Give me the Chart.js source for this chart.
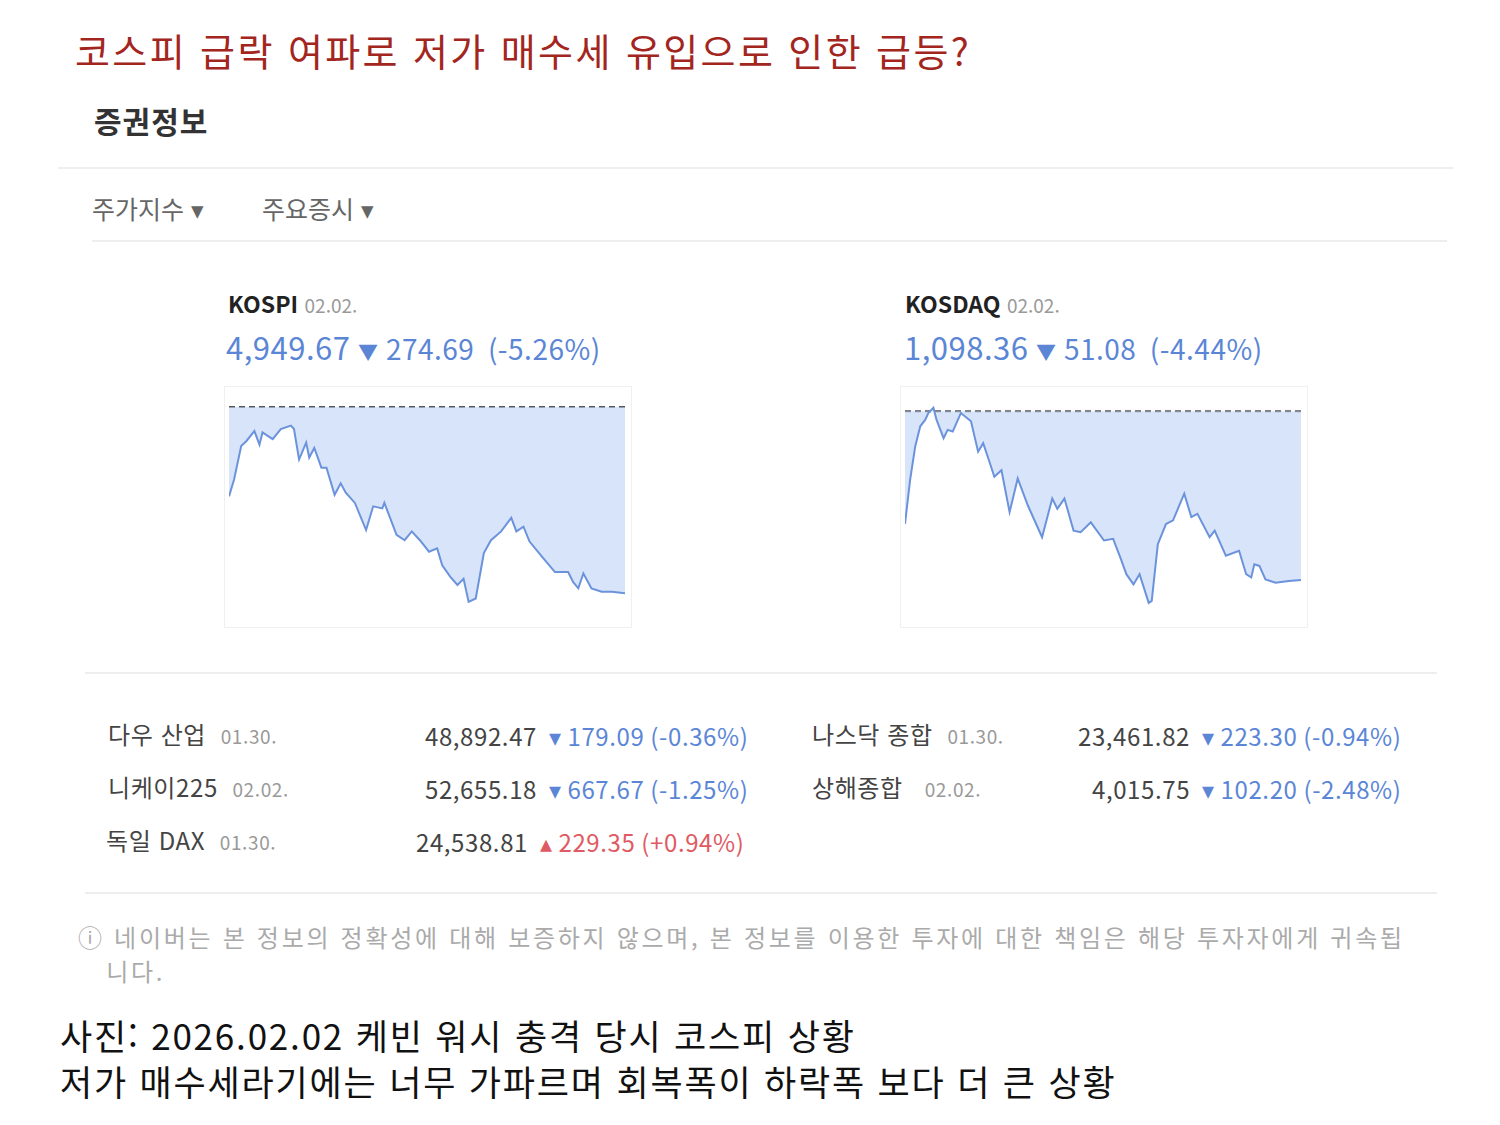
<!DOCTYPE html>
<html lang="ko">
<head>
<meta charset="utf-8">
<script src="https://cdn.jsdelivr.net/npm/chart.js@4"></script>
<style>
  body { margin: 0; width: 1500px; height: 1125px; background: #fff; font-family: "Noto Sans CJK KR", "Noto Sans", sans-serif; position: relative; overflow: hidden; }
  .abs { position: absolute; white-space: nowrap; }
  .title { left: 75px; top: 22px; font-size: 38px; color: #a3261e; letter-spacing: 2.4px; }
  .h2 { left: 94px; top: 98px; font-size: 30px; font-weight: bold; color: #333; letter-spacing: 1px; }
  .hr { position: absolute; height: 2px; background: #eee; }
  .tab { top: 190px; font-size: 25px; color: #666; }
  .name { font-size: 23px; font-weight: bold; color: #222; }
  .date { font-size: 19px; color: #999; font-weight: normal; }
  .big { font-size: 31px; color: #5b86d6; letter-spacing: 0.5px; }
  .box { position: absolute; width: 406px; height: 240px; border: 1px solid #f0f0f0; }
  .row { font-size: 24px; color: #444; letter-spacing: 0.6px; }
  .blue { color: #5b86d6; }
  .red { color: #e05a63; }
  .note { left: 78px; top: 920px; font-size: 24px; color: #aaa; line-height: 34px; letter-spacing: 2.7px; }
  .cap { left: 60px; top: 1012px; font-size: 35px; color: #111; line-height: 46px; letter-spacing: 1.8px; }
</style>
</head>
<body>
<div class="abs title">코스피 급락 여파로 저가 매수세 유입으로 인한 급등?</div>
<div class="abs h2">증권정보</div>
<div class="hr" style="left:58px;top:167px;width:1395px"></div>
<div class="abs tab" style="left:92px">주가지수 ▾</div>
<div class="abs tab" style="left:262px">주요증시 ▾</div>
<div class="hr" style="left:92px;top:240px;width:1355px"></div>

<div class="abs name" style="left:228px;top:286px">KOSPI <span class="date">02.02.</span></div>
<div class="abs big" style="left:226px;top:324px">4,949.67 <span style="font-size:20px">▼</span> <span style="font-size:28px">274.69 &nbsp;(-5.26%)</span></div>
<div class="box" style="left:224px;top:386px"><canvas id="kospi"></canvas></div>

<div class="abs name" style="left:905px;top:286px">KOSDAQ <span class="date">02.02.</span></div>
<div class="abs big" style="left:904px;top:324px">1,098.36 <span style="font-size:20px">▼</span> <span style="font-size:28px">51.08 &nbsp;(-4.44%)</span></div>
<div class="box" style="left:900px;top:386px"><canvas id="kosdaq"></canvas></div>

<div class="hr" style="left:85px;top:672px;width:1352px"></div>

<div class="abs row" style="left:108px;top:716px">다우 산업 &nbsp;<span class="date">01.30.</span></div>
<div class="abs row" style="left:425px;top:718px">48,892.47 <span class="blue">&nbsp;▾ 179.09 (-0.36%)</span></div>
<div class="abs row" style="left:108px;top:769px">니케이225 &nbsp;<span class="date">02.02.</span></div>
<div class="abs row" style="left:425px;top:771px">52,655.18 <span class="blue">&nbsp;▾ 667.67 (-1.25%)</span></div>
<div class="abs row" style="left:106px;top:822px">독일 DAX &nbsp;<span class="date">01.30.</span></div>
<div class="abs row" style="left:416px;top:824px">24,538.81 <span class="red">&nbsp;▴ 229.35 (+0.94%)</span></div>
<div class="abs row" style="left:812px;top:716px">나스닥 종합 &nbsp;<span class="date">01.30.</span></div>
<div class="abs row" style="left:1078px;top:718px">23,461.82 <span class="blue">&nbsp;▾ 223.30 (-0.94%)</span></div>
<div class="abs row" style="left:812px;top:769px">상해종합 &nbsp;&nbsp;<span class="date">02.02.</span></div>
<div class="abs row" style="left:1092px;top:771px">4,015.75 <span class="blue">&nbsp;▾ 102.20 (-2.48%)</span></div>

<div class="hr" style="left:85px;top:892px;width:1352px"></div>
<div class="abs note">ⓘ 네이버는 본 정보의 정확성에 대해 보증하지 않으며, 본 정보를 이용한 투자에 대한 책임은 해당 투자자에게 귀속됩<br>&nbsp;&nbsp;&nbsp;니다.</div>
<div class="abs cap">사진: 2026.02.02 케빈 워시 충격 당시 코스피 상황<br>저가 매수세라기에는 너무 가파르며 회복폭이 하락폭 보다 더 큰 상황</div>

<script>
// 장중 경과 시간(분, 09:00 기준)과 지수 값
const kospiMinutes = [0,5,12,17,25,30,33,43,51,61,64,69,76,79,84,91,96,104,110,115,124,135,142,151,153,165,173,180,188,197,205,210,218,225,231,236,243,251,258,268,278,283,290,296,308,321,334,339,344,349,357,367,377,390];
const kospiValues = [5092.7,5117.5,5167,5174,5189,5169,5187,5177,5192,5197,5192,5147,5172,5150,5164,5135,5135,5095,5112,5098,5083,5043,5078,5075,5083,5036,5028,5041,5028,5011,5016,4991,4974,4962,4971,4937,4942,5009,5028,5041,5061,5041,5048,5026,5004,4981,4981,4966,4957,4979,4957,4952,4952,4949.67];
const kospiPrev = 5224.36;

const kosdaqMinutes = [0,5,10,15,20,23,28,31,38,42,47,55,65,72,77,82,88,95,103,111,121,135,145,150,157,166,173,183,196,205,212,218,225,231,240,243,249,257,264,275,282,288,300,305,316,329,336,341,344,349,355,365,378,390];
const kosdaqValues = [1115.3,1128.6,1138.7,1144.9,1146.9,1148.9,1150.5,1146.9,1141.3,1143.8,1143.3,1148.9,1146.4,1137.2,1139.8,1135.2,1129.6,1131.6,1118.9,1129.1,1120.9,1111.3,1123,1119.9,1123,1113.3,1112.8,1115.8,1110.3,1110.8,1105.2,1100.1,1097,1100.1,1091.4,1092,1109.2,1115.3,1116.4,1124.5,1117.4,1118.4,1111.3,1113.3,1105.7,1107.2,1100.1,1099.1,1103.1,1102.6,1098.5,1097.5,1098,1098.36];
const kosdaqPrev = 1149.44;

function drawChart(id, minutes, values, prev, yMin, yMax) {
    const canvas = document.getElementById(id);
    new Chart(canvas.getContext('2d'), {
        type: 'line',
        data: {
            datasets: [{
                data: minutes.map((m, i) => ({ x: m, y: values[i] })),
                borderColor: '#6b93dc',
                borderWidth: 2,
                pointRadius: 0,
                tension: 0,
                fill: { target: { value: prev } },
                backgroundColor: 'rgba(190,210,245,0.6)'
            }, {
                data: [{ x: 0, y: prev }, { x: 390, y: prev }],
                borderColor: '#555',
                borderWidth: 2,
                borderDash: [6, 4],
                pointRadius: 0,
                fill: false
            }]
        },
        options: {
            responsive: true,
            maintainAspectRatio: false,
            animation: false,
            layout: { padding: { left: 4, right: 6 } },
            plugins: { legend: { display: false }, tooltip: { enabled: false } },
            scales: {
                x: { type: 'linear', min: 0, max: 390, display: false },
                y: { min: yMin, max: yMax, display: false }
            }
        }
    });
}

drawChart('kospi', kospiMinutes, kospiValues, kospiPrev, 4900, 5254);
drawChart('kosdaq', kosdaqMinutes, kosdaqValues, kosdaqPrev, 1084.1, 1156.8);
</script>
</body>
</html>
